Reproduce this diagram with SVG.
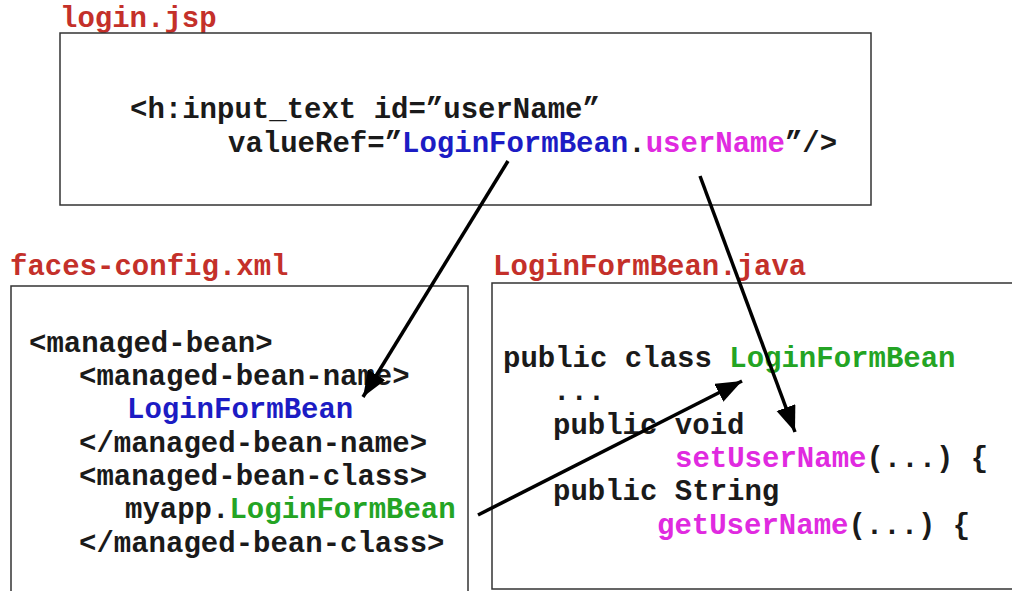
<svg xmlns="http://www.w3.org/2000/svg" width="1012" height="591" viewBox="0 0 1012 591">
  <style>
    .box { fill: #ffffff; stroke: #333333; stroke-width: 1.5; }
    .code { font-family: "Liberation Mono", "Courier New", monospace; font-weight: bold; font-size: 29px; fill: #1a1a1a; white-space: pre; }
    .title { font-family: "Liberation Mono", "Courier New", monospace; font-weight: bold; font-size: 29px; fill: #c4302a; }
    .blue { fill: #1c1cc4; }
    .mag { fill: #e02ae0; }
    .green { fill: #24a424; }
    .link { stroke: #000000; stroke-width: 3.5; fill: none; marker-end: url(#head); }
  </style>
  <defs>
    <marker id="head" markerUnits="userSpaceOnUse" markerWidth="30" markerHeight="24" refX="26" refY="10" orient="auto">
      <path d="M0,0 L26,10 L0,20 Z" fill="#000000"/>
    </marker>
  </defs>
  <rect width="1012" height="591" fill="#ffffff"/>

  <!-- JSP page -->
  <g id="login-jsp">
    <text class="title" x="60" y="27">login.jsp</text>
    <rect class="box" x="60" y="33" width="811" height="172"/>
    <text class="code" x="130" y="118">&lt;h:input_text id=”userName”</text>
    <text class="code" x="228" y="152">valueRef=”<tspan class="blue">LoginFormBean</tspan>.<tspan class="mag">userName</tspan>”/&gt;</text>
  </g>

  <!-- faces-config.xml -->
  <g id="faces-config">
    <text class="title" x="10" y="275">faces-config.xml</text>
    <rect class="box" x="11" y="286" width="457" height="320"/>
    <text class="code" x="29" y="352">&lt;managed-bean&gt;</text>
    <text class="code" x="79" y="385">&lt;managed-bean-name&gt;</text>
    <text class="code blue" x="127" y="418">LoginFormBean</text>
    <text class="code" x="79" y="452">&lt;/managed-bean-name&gt;</text>
    <text class="code" x="79" y="485">&lt;managed-bean-class&gt;</text>
    <text class="code" x="125" y="518">myapp.<tspan class="green">LoginFormBean</tspan></text>
    <text class="code" x="79" y="552">&lt;/managed-bean-class&gt;</text>
  </g>

  <!-- LoginFormBean.java -->
  <g id="login-form-bean">
    <text class="title" x="493" y="275">LoginFormBean.java</text>
    <rect class="box" x="492" y="283" width="540" height="306"/>
    <text class="code" x="503" y="367">public class <tspan class="green">LoginFormBean</tspan></text>
    <text class="code" x="553" y="400">...</text>
    <text class="code" x="553" y="434">public void</text>
    <text class="code" x="675" y="467"><tspan class="mag">setUserName</tspan>(...) {</text>
    <text class="code" x="553" y="500">public String</text>
    <text class="code" x="657" y="534"><tspan class="mag">getUserName</tspan>(...) {</text>
  </g>

  <!-- references between files -->
  <g id="connectors">
    <line class="link" x1="508" y1="161" x2="363" y2="397"/>
    <line class="link" x1="700" y1="176" x2="795" y2="432"/>
    <line class="link" x1="478" y1="515" x2="742" y2="381"/>
  </g>
</svg>
